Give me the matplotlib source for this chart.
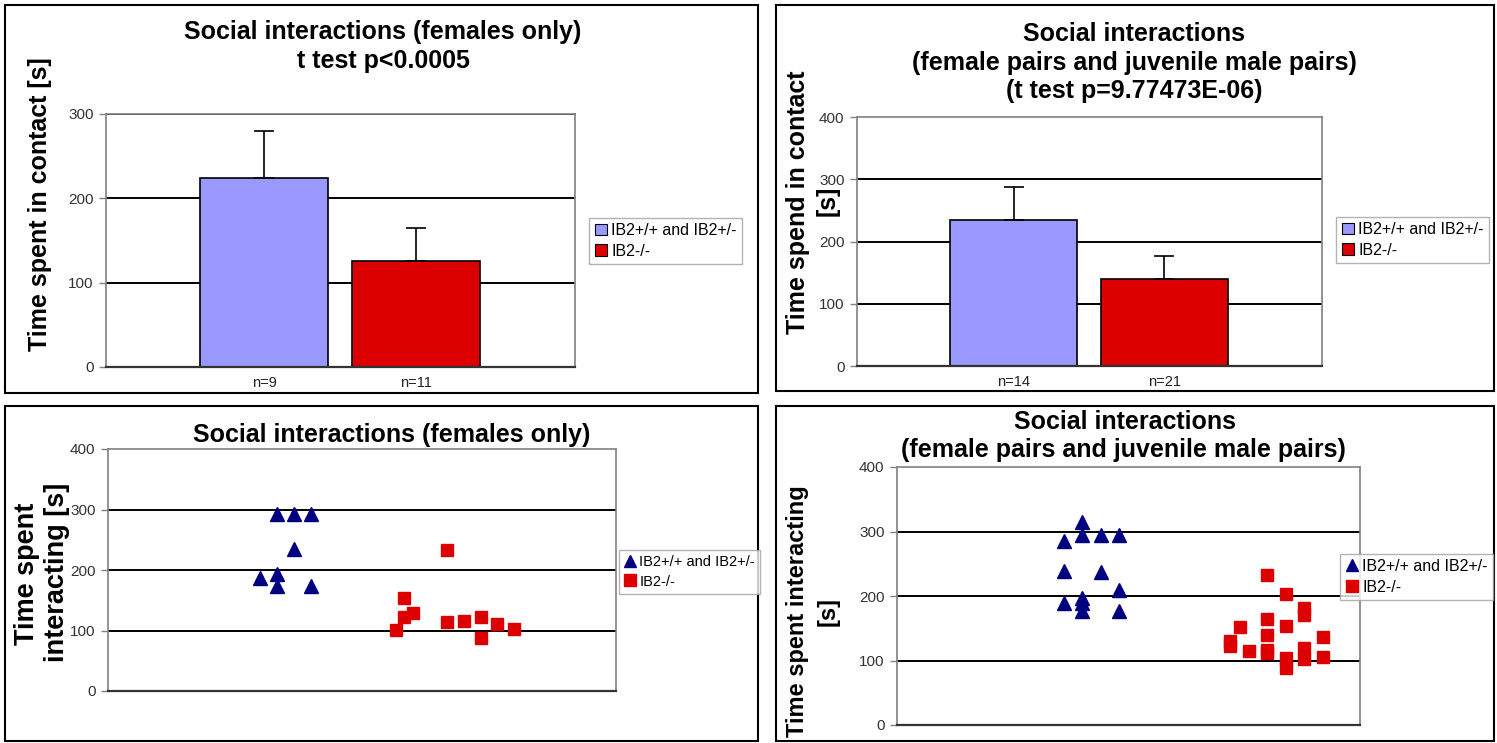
import matplotlib
matplotlib.use("Agg")
import matplotlib.pyplot as plt
from matplotlib.patches import Rectangle, Patch
from matplotlib.lines import Line2D

plt.rcParams['font.family'] = ['Liberation Sans', 'DejaVu Sans']

# ---------------- data ----------------
groups = ["IB2+/+ and IB2+/-", "IB2-/-"]

# top-left bar chart (females only)
tl_means = [224, 126]
tl_err = [56, 39]
tl_n = ["n=9", "n=11"]

# top-right bar chart (female pairs and juvenile male pairs)
tr_means = [234, 140]
tr_err = [53, 37]
tr_n = ["n=14", "n=21"]

# bottom-left scatter (females only)
bl_wt_x = [10, 11, 12, 11, 9, 10, 10, 12]
bl_wt_y = [293, 293, 293, 234, 186, 193, 174, 174]
bl_ko_x = [17, 17.5, 17.5, 18, 20, 20, 21, 22, 22, 23, 24]
bl_ko_y = [101, 154, 122, 129, 233, 114, 116, 122, 88, 111, 102]

# bottom-right scatter (female pairs and juvenile male pairs)
br_wt_x = [10, 9, 10, 11, 12, 9, 11, 12, 9, 10, 10, 10, 12]
br_wt_y = [315, 286, 294, 295, 295, 238, 237, 209, 189, 197, 189, 176, 176]
br_ko_x = [18, 18, 18.5, 19, 20, 20, 20, 20, 20, 21, 21, 21, 21,
           22, 22, 22, 22, 23, 23]
br_ko_y = [131, 122, 152, 114, 233, 165, 139, 117, 111, 203, 154, 104, 88,
           182, 171, 120, 102, 137, 105]

# ---------------- style ----------------
W, H = 1497, 743
BAR_COLORS = ["#9999FF", "#DD0000"]
WT_COLOR = "#000080"
KO_COLOR = "#DD0000"
GRID = "#000000"
BORDER = "#808080"
TITLE_FS = 18

fig = plt.figure(figsize=(W / 100, H / 100), dpi=100)
fig.patch.set_facecolor("white")


def fax(l, t, r, b):
    return fig.add_axes([l / W, 1 - b / H, (r - l) / W, (b - t) / H])


def fx(x):
    return x / W


def fy(y):
    return 1 - y / H


# panel frames
for (l, t, r, b) in [(5, 5, 758, 393), (776, 5, 1494, 391),
                     (5, 406, 758, 741), (776, 406, 1494, 741)]:
    fig.patches.append(Rectangle((fx(l), fy(b)), (r - l) / W, (b - t) / H,
                                 transform=fig.transFigure, fill=False,
                                 edgecolor="black", lw=1.5))


def style_axes(ax, ymax, top_black=False):
    ax.set_ylim(0, ymax)
    ax.set_yticks(range(0, ymax + 1, 100))
    for y in range(100, ymax + (1 if top_black else 0), 100):
        ax.axhline(y, color=GRID, lw=1.4, zorder=1)
    for s in ["left", "right", "top"]:
        ax.spines[s].set_color(BORDER)
        ax.spines[s].set_linewidth(1.2)
    ax.spines["bottom"].set_color("#333333")
    ax.spines["bottom"].set_linewidth(1.6)
    ax.tick_params(axis="y", length=5, width=1, color=BORDER,
                   labelsize=11, labelcolor="#333333", pad=4)
    ax.set_xticks([])


def bar_panel(ax, means, errs, nlabels, ymax, top_black):
    style_axes(ax, ymax, top_black)
    ax.set_xlim(0, 1)
    pos = [0.337, 0.661]
    for i in range(2):
        ax.bar(pos[i], means[i], width=0.273, color=BAR_COLORS[i],
               edgecolor="black", lw=1.2, zorder=2)
        ax.errorbar(pos[i], means[i], yerr=[[0], [errs[i]]], fmt="none",
                    ecolor="black", elinewidth=1.2, capsize=7, capthick=1.2,
                    zorder=3)
        ax.text(pos[i], -0.065, nlabels[i], transform=ax.get_xaxis_transform(),
                ha="center", va="center", fontsize=10.5, color="#222222")


def scatter_panel(ax, wx, wy, kx, ky, xmax):
    style_axes(ax, 400, False)
    ax.set_xlim(0, xmax)
    ax.plot(wx, wy, linestyle="none", marker="^", markersize=10.5,
            color=WT_COLOR, zorder=3)
    ax.plot(kx, ky, linestyle="none", marker="s", markersize=9,
            color=KO_COLOR, zorder=3)


def ylab(x, y, s, fs):
    fig.text(fx(x), fy(y), s, rotation=90, ha="center", va="center",
             fontsize=fs, fontweight="bold")


def title(x, y, s):
    fig.text(fx(x), fy(y), s, ha="center", va="center", fontsize=TITLE_FS,
             fontweight="bold")


# ---------------- top-left ----------------
ax1 = fax(106, 114, 575, 367)
bar_panel(ax1, tl_means, tl_err, tl_n, 300, True)
title(383, 32, "Social interactions (females only)")
title(383, 61, "t test p<0.0005")
ylab(40, 204, "Time spent in contact [s]", 18)

# ---------------- top-right ----------------
ax2 = fax(857, 117, 1322, 366)
bar_panel(ax2, tr_means, tr_err, tr_n, 400, False)
title(1134, 34, "Social interactions")
title(1134, 63, "(female pairs and juvenile male pairs)")
title(1134, 91, "(t test p=9.77473E-06)")
ylab(798, 202, "Time spend in contact", 18)
ylab(828, 201, "[s]", 18)

# ---------------- bottom-left ----------------
ax3 = fax(108, 449, 616, 691)
scatter_panel(ax3, bl_wt_x, bl_wt_y, bl_ko_x, bl_ko_y, 30)
title(392, 435, "Social interactions (females only)")
ylab(27, 574, "Time spent", 19.5)
ylab(57, 572, "interacting [s]", 19.5)

# ---------------- bottom-right ----------------
ax4 = fax(897, 467, 1360, 725)
scatter_panel(ax4, br_wt_x, br_wt_y, br_ko_x, br_ko_y, 25)
title(1125, 422, "Social interactions")
title(1123, 450, "(female pairs and juvenile male pairs)")
ylab(797, 611, "Time spent interacting", 17)
ylab(828, 612, "[s]", 17)

# ---------------- legends ----------------
bar_handles = [Patch(facecolor=BAR_COLORS[i], edgecolor="black", lw=0.8,
                     label=groups[i]) for i in range(2)]
sc_handles = [Line2D([], [], linestyle="none", marker="^", markersize=9,
                     color=WT_COLOR, label=groups[0]),
              Line2D([], [], linestyle="none", marker="s", markersize=8,
                     color=KO_COLOR, label=groups[1])]


def add_legend(handles, l, cy, fs):
    leg = fig.legend(handles=handles, loc="center left",
                     bbox_to_anchor=(fx(l), fy(cy)), fontsize=fs,
                     frameon=True, fancybox=False, edgecolor="#A0A0A0",
                     handlelength=0.75, handleheight=0.75, handletextpad=0.3,
                     borderpad=0.35, labelspacing=0.35, borderaxespad=0)
    leg.get_frame().set_linewidth(1.0)
    return leg


add_legend(bar_handles, 589, 241, 11.5)
add_legend(bar_handles, 1336, 240, 11.5)
add_legend(sc_handles, 619, 572, 10.5)
add_legend(sc_handles, 1340, 577, 11.5)

fig.savefig("out.png", dpi=100, facecolor="white")
